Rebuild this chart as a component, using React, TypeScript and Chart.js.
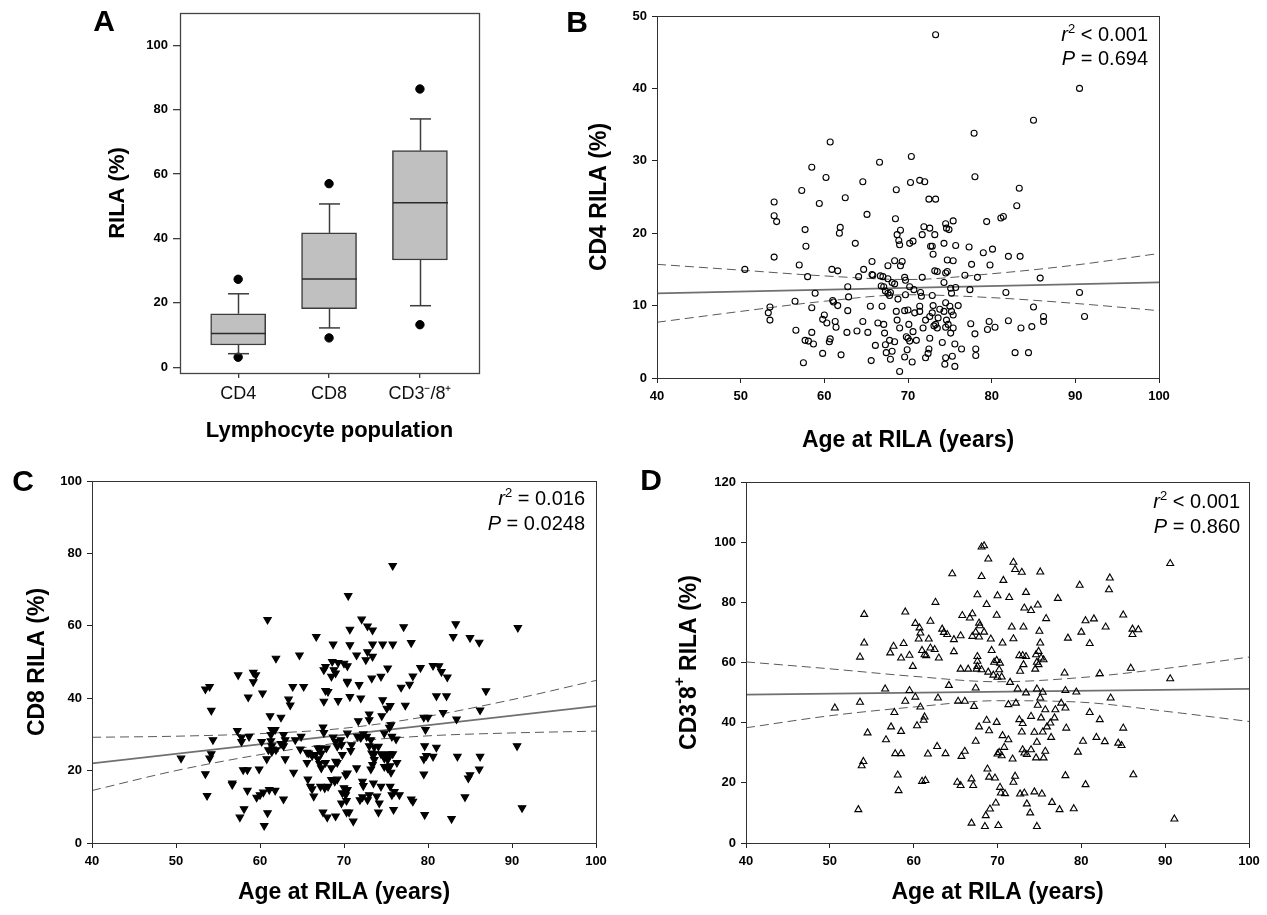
import React, { useEffect, useRef } from 'react';
import { Chart, registerables } from 'chart.js';

Chart.register(...registerables);

const FONT = '"Liberation Sans", Arial, Helvetica, sans-serif';

// ---------- Panel A : box plot ----------
const boxCategories = ['CD4', 'CD8', 'CD3\u207B/8\u207A'];
const boxQ1 = [6.9, 18.2, 33.3];
const boxMedian = [10.5, 27.4, 51.1];
const boxQ3 = [16.6, 41.7, 67.3];
const whiskerLow = [4.2, 12.2, 19.1];
const whiskerHigh = [22.8, 50.7, 77.1];
const outlierLow = [3.1, 9.1, 13.2];
const outlierHigh = [27.3, 57.0, 86.4];
const boxYTicks = [0, 20, 40, 60, 80, 100];

// ---------- shared ----------
const ageTicks = [40, 50, 60, 70, 80, 90, 100];
const fitAges = [40, 100];
const bandAges = [40, 50, 60, 70, 80, 90, 100];

// ---------- Panel B : CD4 ----------
const cd4YTicks = [0, 10, 20, 30, 40, 50];
const cd4Fit = [11.7, 13.2];
const cd4Upper = [15.7, 14.9, 14.1, 13.6, 14.4, 15.6, 17.2];
const cd4Lower = [7.7, 9.2, 10.6, 11.5, 11.1, 10.3, 9.3];
const cd4Points: [number, number][] = [
  [73.3, 47.4], [60.7, 32.6], [58.5, 29.1], [60.2, 27.7], [57.3, 25.9], [54.0, 24.3], [54.0, 22.4], [54.3, 21.6],
  [59.4, 24.1], [62.5, 24.9], [57.7, 20.5], [57.8, 18.2], [61.9, 20.8], [61.8, 20.0], [63.7, 18.6], [64.6, 27.1],
  [65.1, 22.6], [66.6, 29.8], [68.6, 26.0], [70.4, 30.6], [70.3, 27.0], [71.4, 27.3], [72.0, 27.1], [72.5, 24.7],
  [73.3, 24.7], [77.9, 33.8], [78.0, 27.8], [68.5, 22.0], [68.7, 19.8], [69.1, 20.4], [68.9, 19.0], [69.0, 18.4],
  [70.2, 18.6], [70.6, 18.9], [71.9, 20.9], [71.7, 19.8], [72.6, 20.7], [73.2, 19.8], [72.7, 18.2], [72.9, 18.2],
  [73.0, 17.1], [74.5, 21.3], [74.6, 20.7], [74.9, 20.5], [75.4, 21.7], [74.3, 18.6], [75.7, 18.3], [77.3, 18.1],
  [79.0, 17.3], [80.1, 17.8], [79.4, 21.6], [81.1, 22.1], [81.4, 22.3], [82.0, 16.8], [77.6, 15.7], [79.8, 15.6],
  [76.8, 14.2], [78.3, 13.9], [77.4, 12.2], [74.7, 16.3], [75.4, 16.2], [74.7, 14.7], [74.5, 14.5], [74.3, 13.2],
  [75.1, 12.4], [75.7, 12.5], [75.2, 11.7], [73.2, 14.8], [73.5, 14.7], [71.7, 13.9], [70.2, 12.6], [70.7, 12.2],
  [71.5, 11.8], [71.6, 11.3], [72.9, 11.4], [69.6, 13.9], [69.7, 13.5], [69.1, 15.5], [69.3, 16.1], [68.4, 16.2],
  [67.6, 15.5], [65.7, 16.1], [65.7, 14.3], [65.8, 14.2], [64.1, 14.0], [64.7, 15.0], [66.7, 14.1], [67.0, 14.0],
  [67.6, 13.7], [68.1, 13.2], [68.4, 13.0], [66.8, 12.7], [67.1, 12.6], [67.3, 12.0], [67.6, 11.7], [67.9, 11.8],
  [67.8, 11.4], [68.8, 10.9], [69.7, 11.5], [62.8, 12.6], [62.9, 11.2], [60.9, 15.0], [61.6, 14.8], [58.0, 14.0],
  [57.0, 15.6], [54.0, 16.7], [50.5, 15.0], [56.5, 10.6], [58.9, 11.7], [61.0, 10.7], [61.1, 10.5], [61.6, 10.0],
  [62.8, 9.3], [53.5, 9.8], [53.3, 9.0], [53.5, 8.0], [58.5, 9.7], [60.0, 8.7], [59.8, 8.1], [60.3, 7.6],
  [61.3, 7.8], [61.4, 7.0], [56.6, 6.6], [58.5, 6.3], [57.7, 5.2], [58.1, 5.1], [58.7, 4.7], [60.7, 5.4],
  [60.6, 5.0], [59.8, 3.4], [62.0, 3.2], [57.5, 2.1], [62.7, 6.3], [63.9, 6.5], [64.6, 7.8], [65.2, 6.3],
  [65.5, 9.9], [66.9, 9.9], [66.4, 7.6], [67.1, 7.4], [67.2, 6.2], [66.1, 4.5], [67.3, 4.6], [67.8, 5.2],
  [68.4, 5.0], [67.4, 3.5], [68.1, 3.7], [67.9, 2.6], [65.6, 2.4], [68.6, 9.2], [69.6, 9.3], [70.0, 9.4],
  [68.7, 8.0], [69.0, 6.9], [70.1, 7.4], [69.8, 5.7], [70.0, 5.5], [70.2, 5.1], [70.6, 6.4], [71.0, 5.2],
  [69.9, 3.9], [69.6, 2.9], [70.5, 2.2], [69.0, 0.9], [70.8, 9.0], [71.4, 9.2], [71.4, 9.9], [71.8, 6.9],
  [72.1, 8.0], [72.6, 8.5], [72.9, 9.0], [73.0, 10.0], [73.8, 9.5], [74.3, 9.2], [74.5, 10.4], [75.0, 9.9],
  [75.2, 9.2], [75.4, 8.7], [76.0, 10.0], [73.6, 8.3], [73.3, 7.4], [73.5, 6.9], [73.1, 7.2], [74.6, 8.0],
  [74.8, 7.4], [74.5, 7.0], [75.4, 6.9], [75.1, 6.2], [72.6, 5.5], [74.1, 4.9], [75.6, 4.7], [76.4, 4.0],
  [72.5, 4.0], [72.4, 3.4], [72.1, 2.8], [74.5, 2.8], [75.3, 3.0], [74.4, 1.9], [75.6, 1.6], [77.5, 7.5],
  [78.0, 6.1], [78.1, 4.0], [78.1, 3.1], [79.5, 6.7], [79.7, 7.8], [80.4, 7.0], [82.0, 7.9], [81.7, 11.8],
  [90.5, 40.0], [85.0, 35.6], [83.3, 26.2], [83.0, 23.8], [83.4, 16.8], [85.8, 13.8], [90.5, 11.8], [85.0, 9.8],
  [83.5, 6.9], [84.8, 7.1], [86.2, 8.5], [86.2, 7.8], [91.1, 8.5], [82.8, 3.5], [84.4, 3.5],
];

// ---------- Panel C : CD8 ----------
const cd8YTicks = [0, 20, 40, 60, 80, 100];
const cd8Fit = [22.0, 37.8];
const cd8Upper = [29.2, 29.5, 30.2, 31.7, 35.0, 39.6, 44.9];
const cd8Lower = [14.5, 20.0, 24.4, 27.8, 29.6, 30.4, 30.9];
const cd8Points: [number, number][] = [
  [75.8, 76.6], [70.5, 68.3], [60.9, 61.7], [72.1, 61.8], [72.8, 59.9], [73.4, 58.8], [70.7, 59.0], [77.1, 59.7],
  [83.3, 60.5], [90.7, 59.5], [66.7, 57.0], [83.0, 57.0], [85.0, 56.7], [86.1, 55.4], [68.7, 54.9], [70.7, 54.7],
  [73.4, 54.9], [74.6, 54.9], [75.8, 54.9], [78.0, 55.3], [61.9, 51.0], [64.7, 51.9], [71.5, 51.9], [72.8, 52.8],
  [73.4, 51.5], [72.6, 50.6], [67.8, 48.7], [68.6, 50.1], [69.3, 49.8], [70.0, 49.6], [70.4, 48.9], [68.8, 47.8],
  [67.6, 47.8], [69.0, 46.9], [68.5, 46.0], [75.2, 48.3], [79.1, 48.4], [80.6, 49.0], [81.3, 48.9], [81.6, 47.3],
  [82.3, 45.8], [78.2, 46.1], [77.8, 43.8], [76.8, 43.0], [74.4, 46.0], [73.3, 45.5], [57.4, 46.4], [59.2, 47.1],
  [59.5, 46.4], [59.2, 44.5], [54.0, 43.2], [53.5, 42.5], [58.6, 40.3], [60.3, 41.4], [63.9, 43.2], [65.2, 43.2],
  [63.4, 39.7], [63.6, 38.1], [67.8, 42.1], [68.1, 41.8], [67.6, 39.1], [69.3, 39.3], [70.7, 40.4], [70.4, 44.6],
  [70.4, 44.3], [71.8, 43.7], [72.0, 40.0], [74.6, 39.5], [75.1, 37.2], [75.5, 37.9], [77.3, 38.0], [81.0, 40.6],
  [82.2, 40.6], [86.9, 42.0], [86.2, 36.7], [54.2, 36.6], [81.8, 36.0], [80.0, 34.7], [79.5, 34.7], [83.4, 34.2],
  [74.5, 35.1], [73.0, 35.6], [73.0, 34.0], [71.7, 33.7], [61.2, 35.1], [62.5, 34.7], [57.3, 31.0], [75.6, 32.6],
  [75.4, 31.9], [79.7, 31.3], [67.5, 32.0], [67.6, 30.5], [70.4, 30.3], [57.8, 29.2], [58.7, 29.4], [57.8, 28.0],
  [54.4, 28.5], [61.4, 31.3], [61.8, 31.3], [61.3, 29.9], [62.8, 29.9], [63.0, 28.5], [64.9, 29.4], [64.2, 28.5],
  [61.3, 28.2], [60.2, 28.0], [61.4, 26.8], [62.5, 27.4], [62.8, 26.8], [61.5, 25.9], [61.9, 25.7], [61.4, 25.2],
  [61.0, 25.7], [63.0, 23.2], [60.8, 23.2], [64.8, 25.9], [65.6, 25.0], [65.8, 24.8], [66.2, 24.1], [66.6, 24.4],
  [66.9, 26.2], [67.2, 26.2], [67.9, 26.2], [67.3, 24.8], [66.9, 23.2], [65.6, 22.2], [67.1, 21.9], [67.3, 20.7],
  [67.8, 22.2], [68.7, 29.2], [69.0, 28.0], [69.6, 28.5], [69.7, 27.1], [69.2, 26.7], [69.8, 24.4], [69.2, 22.2],
  [68.5, 20.7], [69.0, 22.5], [70.8, 25.5], [70.9, 27.1], [71.6, 29.4], [72.0, 29.1], [72.7, 29.4], [73.2, 28.5],
  [72.3, 30.1], [73.6, 26.5], [74.1, 26.7], [73.0, 26.8], [73.3, 24.8], [73.6, 24.6], [74.4, 24.6], [74.9, 24.4],
  [75.4, 24.6], [75.8, 24.6], [73.6, 23.0], [73.4, 21.6], [73.2, 20.4], [74.8, 23.4], [75.2, 23.0], [74.8, 21.1],
  [75.2, 20.7], [75.5, 21.3], [75.6, 19.5], [76.3, 22.2], [76.2, 28.7], [75.7, 29.4], [74.8, 30.3], [79.8, 24.1],
  [79.5, 23.2], [79.5, 19.0], [80.6, 23.9], [81.0, 26.4], [79.6, 26.8], [83.5, 23.9], [86.2, 23.9], [86.1, 20.4],
  [85.0, 18.8], [84.8, 17.9], [84.4, 12.7], [90.6, 26.8], [91.2, 9.7], [82.8, 6.7], [79.6, 7.8], [78.2, 11.5],
  [78.0, 12.1], [76.6, 13.3], [75.7, 13.3], [76.0, 14.2], [75.9, 9.2], [75.5, 15.6], [74.4, 15.6], [73.9, 12.9],
  [74.2, 11.0], [74.1, 8.5], [73.5, 16.5], [73.0, 13.3], [72.8, 11.9], [72.2, 12.7], [71.9, 11.9], [72.3, 15.8],
  [72.2, 17.0], [71.5, 20.7], [70.4, 19.3], [70.2, 18.8], [70.0, 15.2], [70.4, 14.7], [69.8, 13.8], [70.2, 13.3],
  [70.3, 11.7], [69.7, 11.0], [70.3, 8.5], [70.6, 8.5], [71.1, 6.0], [69.0, 7.4], [68.0, 7.1], [67.5, 8.5],
  [67.7, 15.2], [68.1, 15.6], [67.2, 15.6], [68.9, 17.0], [69.2, 17.6], [68.5, 17.5], [66.0, 15.6], [65.7, 17.6],
  [66.2, 14.9], [66.4, 12.9], [62.8, 12.1], [60.9, 8.3], [60.5, 4.8], [57.6, 7.1], [58.1, 9.4], [60.0, 13.3],
  [60.4, 14.0], [61.1, 14.7], [61.8, 14.5], [58.5, 14.5], [59.6, 12.6], [58.0, 20.2], [58.5, 20.2], [59.9, 20.4],
  [56.7, 16.5], [56.7, 16.1], [64.0, 19.5], [53.7, 13.1], [53.5, 19.1], [50.6, 23.4], [54.0, 23.4], [54.2, 24.6],
];

// ---------- Panel D : CD3-8+ ----------
const cd38YTicks = [0, 20, 40, 60, 80, 100, 120];
const cd38Fit = [49.3, 51.2];
const cd38Upper = [60.2, 57.9, 55.4, 53.6, 55.0, 58.0, 61.8];
const cd38Lower = [38.3, 42.3, 45.2, 47.3, 46.8, 43.8, 40.4];
const cd38Points: [number, number][] = [
  [68.4, 98.8], [68.1, 98.4], [68.9, 94.4], [71.9, 93.3], [72.1, 90.9], [72.9, 90.0], [75.1, 90.1], [64.6, 89.5],
  [68.1, 88.6], [70.7, 87.3], [79.8, 85.7], [83.4, 88.1], [83.3, 84.2], [90.6, 92.9], [73.4, 83.3], [67.6, 82.5],
  [70.0, 82.2], [71.4, 81.6], [77.2, 81.3], [62.6, 80.0], [68.7, 79.3], [74.8, 79.1], [73.2, 78.1], [74.0, 77.3],
  [54.1, 76.0], [59.0, 76.8], [67.0, 76.2], [65.8, 75.6], [69.9, 75.7], [75.8, 74.6], [85.0, 75.8], [81.5, 74.5],
  [80.5, 73.9], [66.7, 74.8], [62.0, 73.7], [60.2, 73.0], [60.7, 71.5], [60.8, 69.8], [67.8, 73.1], [67.9, 72.2],
  [71.7, 71.8], [73.1, 71.8], [75.0, 70.4], [82.9, 71.8], [86.1, 71.1], [86.8, 70.9], [86.1, 69.3], [80.0, 70.1],
  [81.0, 66.3], [63.4, 71.1], [63.6, 70.0], [64.0, 69.3], [64.8, 67.6], [65.6, 68.9], [67.0, 68.7], [67.4, 70.1],
  [67.8, 68.5], [68.4, 70.1], [69.2, 67.8], [70.6, 66.5], [71.9, 67.9], [75.1, 66.5], [78.4, 68.1], [54.1, 66.5],
  [57.6, 65.4], [58.8, 66.3], [60.6, 67.8], [61.8, 67.8], [57.2, 63.2], [58.5, 61.5], [59.5, 62.4], [59.9, 58.7],
  [53.6, 61.8], [61.0, 64.0], [61.5, 62.3], [61.3, 62.6], [62.0, 64.8], [62.5, 64.3], [63.0, 61.5], [64.8, 63.6],
  [69.3, 64.0], [67.6, 62.0], [67.6, 60.4], [65.6, 57.8], [66.5, 57.8], [67.5, 57.8], [68.1, 57.6], [67.6, 58.7],
  [68.9, 56.8], [69.5, 55.8], [70.0, 55.1], [69.6, 60.1], [69.9, 60.7], [70.3, 59.8], [70.2, 57.6], [70.5, 55.2],
  [71.5, 53.4], [72.6, 62.3], [73.0, 62.3], [73.4, 62.0], [73.1, 59.3], [72.7, 57.1], [74.6, 62.6], [74.9, 63.7],
  [75.2, 61.5], [75.5, 60.9], [74.7, 60.1], [74.5, 57.8], [74.9, 59.3], [78.0, 56.5], [82.2, 56.3], [85.9, 58.1],
  [90.6, 54.6], [56.6, 51.2], [59.5, 50.7], [64.2, 52.4], [67.4, 51.5], [72.4, 51.2], [73.4, 49.9], [74.7, 51.2],
  [75.4, 50.1], [75.1, 48.2], [74.8, 45.8], [78.1, 50.7], [79.4, 50.2], [60.2, 48.5], [62.9, 48.2], [65.3, 47.1],
  [66.1, 47.1], [67.2, 45.4], [71.3, 46.0], [72.2, 46.5], [77.6, 46.5], [78.1, 44.9], [83.5, 48.2], [50.6, 44.9],
  [53.6, 46.8], [57.7, 43.4], [59.0, 47.1], [60.8, 45.2], [61.3, 41.9], [61.2, 40.8], [60.4, 39.0], [54.5, 36.6],
  [57.3, 38.6], [58.5, 37.1], [56.7, 34.3], [67.4, 33.8], [67.8, 38.6], [68.7, 40.8], [69.9, 40.1], [69.0, 37.3],
  [70.6, 35.7], [71.3, 34.3], [72.6, 41.0], [73.0, 39.7], [72.9, 36.9], [74.0, 42.1], [74.4, 36.8], [74.7, 33.5],
  [75.2, 41.6], [75.7, 44.3], [75.4, 36.9], [75.9, 38.6], [76.3, 39.9], [76.8, 41.6], [76.4, 35.1], [76.9, 44.3],
  [78.2, 38.2], [81.0, 43.4], [82.2, 41.0], [80.2, 33.8], [79.6, 30.2], [81.8, 35.1], [82.8, 33.7], [84.4, 33.2],
  [84.8, 32.4], [85.0, 38.2], [70.2, 30.1], [70.8, 31.8], [70.5, 29.0], [70.0, 29.6], [71.8, 27.9], [73.0, 31.0],
  [73.2, 29.9], [73.5, 29.4], [74.0, 31.0], [74.6, 28.3], [75.7, 30.5], [75.5, 28.3], [66.1, 30.5], [65.7, 28.8],
  [63.8, 29.7], [61.7, 29.6], [62.8, 32.1], [57.8, 29.7], [58.5, 29.7], [54.0, 27.1], [53.8, 25.7], [58.1, 22.6],
  [58.2, 17.4], [61.0, 20.5], [61.4, 20.8], [65.2, 20.2], [65.6, 19.1], [66.9, 21.3], [67.1, 19.1], [68.8, 24.6],
  [69.0, 21.9], [69.7, 21.6], [70.3, 18.5], [70.4, 16.6], [70.9, 16.4], [72.1, 22.2], [71.9, 20.2], [72.7, 16.3],
  [73.2, 16.6], [74.4, 17.0], [75.3, 16.3], [73.5, 13.0], [73.9, 10.0], [76.5, 13.5], [77.4, 11.1], [79.1, 11.4],
  [78.1, 22.4], [80.5, 19.4], [86.2, 22.7], [69.8, 13.3], [69.1, 11.3], [68.6, 9.1], [66.9, 6.6], [68.5, 5.5],
  [70.1, 5.8], [74.7, 5.5], [53.4, 11.1], [91.1, 8.0],
];

// ---------- text helpers ----------
type Seg = { t: string; it?: boolean; sup?: boolean };

function segFont(s: Seg, size: number, bold: boolean) {
  const sz = s.sup ? Math.round(size * 0.66) : size;
  return `${s.it ? 'italic ' : ''}${bold ? 'bold ' : ''}${sz}px ${FONT}`;
}

function drawSegs(ctx: CanvasRenderingContext2D, segs: Seg[], x: number, y: number, size: number, bold: boolean, align: string) {
  let total = 0;
  const widths = segs.map((s) => {
    ctx.font = segFont(s, size, bold);
    const w = ctx.measureText(s.t).width;
    total += w;
    return w;
  });
  let cx = align === 'right' ? x - total : align === 'center' ? x - total / 2 : x;
  ctx.textAlign = 'left';
  segs.forEach((s, i) => {
    ctx.font = segFont(s, size, bold);
    ctx.fillText(s.t, cx, s.sup ? y - size * 0.42 : y);
    cx += widths[i];
  });
}

type Decor = {
  ox: number; oy: number;
  letter: string; letterX: number; letterY: number;
  yTitle: Seg[]; yTitleX: number; xTitle: Seg[]; xTitleBase: number; titleSize: number;
  stats?: Seg[][]; statsRight?: number; statsBase?: number[];
  frameColor: string; frameWidth: number;
};

function decorPlugin(d: Decor) {
  return {
    id: 'decor',
    afterDraw(chart: any) {
      const ctx: CanvasRenderingContext2D = chart.ctx;
      const a = chart.chartArea;
      ctx.save();
      // frame
      ctx.strokeStyle = d.frameColor;
      ctx.lineWidth = d.frameWidth;
      const l = Math.round(a.left) + 0.5, t = Math.round(a.top) + 0.5;
      ctx.strokeRect(l, t, Math.round(a.right) - Math.round(a.left), Math.round(a.bottom) - Math.round(a.top));
      ctx.fillStyle = '#000';
      // panel letter
      ctx.font = `bold 30px ${FONT}`;
      ctx.textAlign = 'center';
      ctx.textBaseline = 'middle';
      ctx.fillText(d.letter, d.letterX - d.ox, d.letterY - d.oy);
      // x title
      ctx.textBaseline = 'alphabetic';
      drawSegs(ctx, d.xTitle, (a.left + a.right) / 2, d.xTitleBase - d.oy, d.titleSize, true, 'center');
      // y title
      ctx.save();
      ctx.translate(d.yTitleX - d.ox, (a.top + a.bottom) / 2);
      ctx.rotate(-Math.PI / 2);
      ctx.textBaseline = 'middle';
      drawSegs(ctx, d.yTitle, 0, 0, d.titleSize, true, 'center');
      ctx.restore();
      // stats
      if (d.stats && d.statsBase && d.statsRight !== undefined) {
        ctx.textBaseline = 'alphabetic';
        d.stats.forEach((line, i) => {
          drawSegs(ctx, line, d.statsRight! - d.ox, d.statsBase![i] - d.oy, 20, false, 'right');
        });
      }
      ctx.restore();
    },
  };
}

const boxPlugin = {
  id: 'boxWhiskers',
  afterDatasetsDraw(chart: any) {
    const ctx: CanvasRenderingContext2D = chart.ctx;
    const xs = chart.scales.x;
    const ys = chart.scales.y;
    ctx.save();
    ctx.strokeStyle = '#3c3c3c';
    ctx.lineWidth = 1.5;
    boxCategories.forEach((_, i) => {
      const px = Math.round(xs.getPixelForValue(i + 1)) + 0.5;
      const cap = 10.5;
      const half = 27.5;
      const seg = (x1: number, y1: number, x2: number, y2: number) => {
        ctx.beginPath();
        ctx.moveTo(x1, y1);
        ctx.lineTo(x2, y2);
        ctx.stroke();
      };
      const yq3 = ys.getPixelForValue(boxQ3[i]);
      const yq1 = ys.getPixelForValue(boxQ1[i]);
      const yHi = ys.getPixelForValue(whiskerHigh[i]);
      const yLo = ys.getPixelForValue(whiskerLow[i]);
      seg(px, yq3, px, yHi);
      seg(px - cap, yHi, px + cap, yHi);
      seg(px, yq1, px, yLo);
      seg(px - cap, yLo, px + cap, yLo);
      const ym = ys.getPixelForValue(boxMedian[i]);
      ctx.strokeStyle = '#2a2a2a';
      seg(px - half, ym, px + half, ym);
      ctx.strokeStyle = '#3c3c3c';
    });
    ctx.restore();
  },
};

// ---------- layout ----------
const tickFont = { family: FONT, size: 13, weight: 'bold' as const };

function fixedTicks(values: number[]) {
  return (s: any) => {
    s.ticks = values.map((v) => ({ value: v }));
  };
}

function buildBoxConfig(ox: number, oy: number, W: number, H: number) {
  const area = { left: 180, top: 13, right: 479, bottom: 373 };
  const yW = area.left - ox;
  const xH = oy + H - area.bottom;
  return {
    type: 'bar',
    data: {
      datasets: [
        {
          type: 'scatter',
          data: boxCategories.flatMap((_, i) => [
            { x: i + 1, y: outlierLow[i] },
            { x: i + 1, y: outlierHigh[i] },
          ]),
          pointRadius: 4.2,
          pointBackgroundColor: '#000',
          pointBorderColor: '#000',
          order: 1,
        },
        {
          type: 'bar',
          data: boxCategories.map((_, i) => ({ x: i + 1, y: [boxQ1[i], boxQ3[i]] })),
          backgroundColor: '#c0c0c0',
          borderColor: '#3c3c3c',
          borderWidth: 1.5,
          borderSkipped: false,
          barThickness: 55,
          grouped: false,
          order: 2,
        },
      ],
    },
    options: {
      responsive: false,
      animation: false,
      devicePixelRatio: 1,
      layout: { padding: { left: 0, top: area.top - oy, right: ox + W - area.right, bottom: 0 } },
      plugins: { legend: { display: false }, tooltip: { enabled: false } },
      scales: {
        x: {
          type: 'linear',
          min: 0.36,
          max: 3.65,
          offset: false,
          afterBuildTicks: fixedTicks([1, 2, 3]),
          afterFit: (s: any) => { s.height = xH; },
          grid: { display: true, offset: false, drawOnChartArea: false, drawTicks: true, tickLength: 5, color: '#3c3c3c', lineWidth: 1.3 },
          border: { display: false },
          ticks: {
            font: { family: FONT, size: 18 },
            color: '#111',
            padding: 5,
            maxRotation: 0,
            autoSkip: false,
            callback: (v: number) => boxCategories[Math.round(v) - 1] ?? '',
          },
        },
        y: {
          type: 'linear',
          min: -1.8,
          max: 110,
          afterBuildTicks: fixedTicks(boxYTicks),
          afterFit: (s: any) => { s.width = yW; },
          grid: { display: true, drawOnChartArea: false, drawTicks: true, tickLength: 7, color: '#3c3c3c', lineWidth: 1.3 },
          border: { display: false },
          ticks: { font: tickFont, color: '#000', padding: 5 },
        },
      },
    },
    plugins: [
      boxPlugin,
      decorPlugin({
        ox, oy, letter: 'A', letterX: 104, letterY: 23,
        yTitle: [{ t: 'RILA (%)' }], yTitleX: 118,
        xTitle: [{ t: 'Lymphocyte population' }], xTitleBase: 437, titleSize: 22,
        frameColor: '#444', frameWidth: 1.3,
      }),
    ],
  };
}

type ScatterSpec = {
  ox: number; oy: number; W: number; H: number;
  area: { left: number; top: number; right: number; bottom: number };
  yMax: number; yTicks: number[];
  points: [number, number][];
  pointStyle: string; rotation: number; radius: number; filled: boolean;
  fit: number[]; upper: number[]; lower: number[];
  decor: Omit<Decor, 'ox' | 'oy'>;
};

function buildScatterConfig(p: ScatterSpec) {
  const yW = p.area.left - p.ox;
  const xH = p.oy + p.H - p.area.bottom;
  const bandStyle = {
    type: 'line',
    borderColor: '#5a5a5a',
    borderWidth: 1,
    borderDash: [9, 5],
    pointRadius: 0,
    cubicInterpolationMode: 'monotone',
    fill: false,
    order: 3,
  };
  return {
    type: 'scatter',
    data: {
      datasets: [
        {
          type: 'scatter',
          data: p.points.map(([x, y]) => ({ x, y })),
          pointStyle: p.pointStyle,
          rotation: p.rotation,
          pointRadius: p.radius,
          pointBorderWidth: 1.1,
          pointBorderColor: '#000',
          pointBackgroundColor: p.filled ? '#000' : 'rgba(0,0,0,0)',
          order: 1,
        },
        {
          type: 'line',
          data: fitAges.map((x, i) => ({ x, y: p.fit[i] })),
          borderColor: '#707070',
          borderWidth: 1.7,
          pointRadius: 0,
          fill: false,
          order: 2,
        },
        { ...bandStyle, data: bandAges.map((x, i) => ({ x, y: p.upper[i] })) },
        { ...bandStyle, data: bandAges.map((x, i) => ({ x, y: p.lower[i] })) },
      ],
    },
    options: {
      responsive: false,
      animation: false,
      devicePixelRatio: 1,
      layout: { padding: { left: 0, top: p.area.top - p.oy, right: p.ox + p.W - p.area.right, bottom: 0 } },
      plugins: { legend: { display: false }, tooltip: { enabled: false } },
      scales: {
        x: {
          type: 'linear',
          min: 40,
          max: 100,
          offset: false,
          afterBuildTicks: fixedTicks(ageTicks),
          afterFit: (s: any) => { s.height = xH; },
          grid: { display: true, offset: false, drawOnChartArea: false, drawTicks: true, tickLength: 5, color: '#222', lineWidth: 1 },
          border: { display: false },
          ticks: { font: tickFont, color: '#000', padding: 6, maxRotation: 0, autoSkip: false },
        },
        y: {
          type: 'linear',
          min: 0,
          max: p.yMax,
          afterBuildTicks: fixedTicks(p.yTicks),
          afterFit: (s: any) => { s.width = yW; },
          grid: { display: true, drawOnChartArea: false, drawTicks: true, tickLength: 5, color: '#222', lineWidth: 1 },
          border: { display: false },
          ticks: { font: tickFont, color: '#000', padding: 5 },
        },
      },
    },
    plugins: [decorPlugin({ ox: p.ox, oy: p.oy, ...p.decor })],
  };
}

const statR2Less: Seg[] = [{ t: 'r', it: true }, { t: '2', sup: true }, { t: ' < 0.001' }];

function ChartCanvas(props: { x: number; y: number; w: number; h: number; build: () => any }) {
  const ref = useRef<HTMLCanvasElement>(null);
  useEffect(() => {
    const chart = new Chart(ref.current as HTMLCanvasElement, props.build());
    return () => chart.destroy();
  }, []);
  return (
    <canvas
      ref={ref}
      width={props.w}
      height={props.h}
      style={{ position: 'absolute', left: props.x, top: props.y, width: props.w, height: props.h }}
    />
  );
}

export default function App() {
  return (
    <div style={{ position: 'absolute', left: 0, top: 0, width: 1267, height: 915, background: '#fff', overflow: 'hidden' }}>
      <ChartCanvas x={0} y={0} w={520} h={455} build={() => buildBoxConfig(0, 0, 520, 455)} />
      <ChartCanvas
        x={520} y={0} w={747} h={455}
        build={() =>
          buildScatterConfig({
            ox: 520, oy: 0, W: 747, H: 455,
            area: { left: 657, top: 16, right: 1159, bottom: 378 },
            yMax: 50, yTicks: cd4YTicks, points: cd4Points,
            pointStyle: 'circle', rotation: 0, radius: 3, filled: false,
            fit: cd4Fit, upper: cd4Upper, lower: cd4Lower,
            decor: {
              letter: 'B', letterX: 577, letterY: 24,
              yTitle: [{ t: 'CD4 RILA (%)' }], yTitleX: 600,
              xTitle: [{ t: 'Age at RILA (years)' }], xTitleBase: 447, titleSize: 23,
              stats: [statR2Less, [{ t: 'P', it: true }, { t: ' = 0.694' }]],
              statsRight: 1148, statsBase: [41, 65],
              frameColor: '#333', frameWidth: 1,
            },
          })
        }
      />
      <ChartCanvas
        x={0} y={455} w={640} h={460}
        build={() =>
          buildScatterConfig({
            ox: 0, oy: 455, W: 640, H: 460,
            area: { left: 92, top: 481, right: 596, bottom: 843 },
            yMax: 100, yTicks: cd8YTicks, points: cd8Points,
            pointStyle: 'triangle', rotation: 180, radius: 4.3, filled: true,
            fit: cd8Fit, upper: cd8Upper, lower: cd8Lower,
            decor: {
              letter: 'C', letterX: 23, letterY: 483,
              yTitle: [{ t: 'CD8 RILA (%)' }], yTitleX: 38,
              xTitle: [{ t: 'Age at RILA (years)' }], xTitleBase: 899, titleSize: 23,
              stats: [[{ t: 'r', it: true }, { t: '2', sup: true }, { t: ' = 0.016' }], [{ t: 'P', it: true }, { t: ' = 0.0248' }]],
              statsRight: 585, statsBase: [505, 530],
              frameColor: '#333', frameWidth: 1,
            },
          })
        }
      />
      <ChartCanvas
        x={640} y={455} w={627} h={460}
        build={() =>
          buildScatterConfig({
            ox: 640, oy: 455, W: 627, H: 460,
            area: { left: 746, top: 482, right: 1249, bottom: 843 },
            yMax: 120, yTicks: cd38YTicks, points: cd38Points,
            pointStyle: 'triangle', rotation: 0, radius: 4, filled: false,
            fit: cd38Fit, upper: cd38Upper, lower: cd38Lower,
            decor: {
              letter: 'D', letterX: 651, letterY: 482,
              yTitle: [{ t: 'CD3' }, { t: '-', sup: true }, { t: '8' }, { t: '+', sup: true }, { t: ' RILA (%)' }],
              yTitleX: 690,
              xTitle: [{ t: 'Age at RILA (years)' }], xTitleBase: 899, titleSize: 23,
              stats: [statR2Less, [{ t: 'P', it: true }, { t: ' = 0.860' }]],
              statsRight: 1240, statsBase: [508, 533],
              frameColor: '#333', frameWidth: 1,
            },
          })
        }
      />
    </div>
  );
}
